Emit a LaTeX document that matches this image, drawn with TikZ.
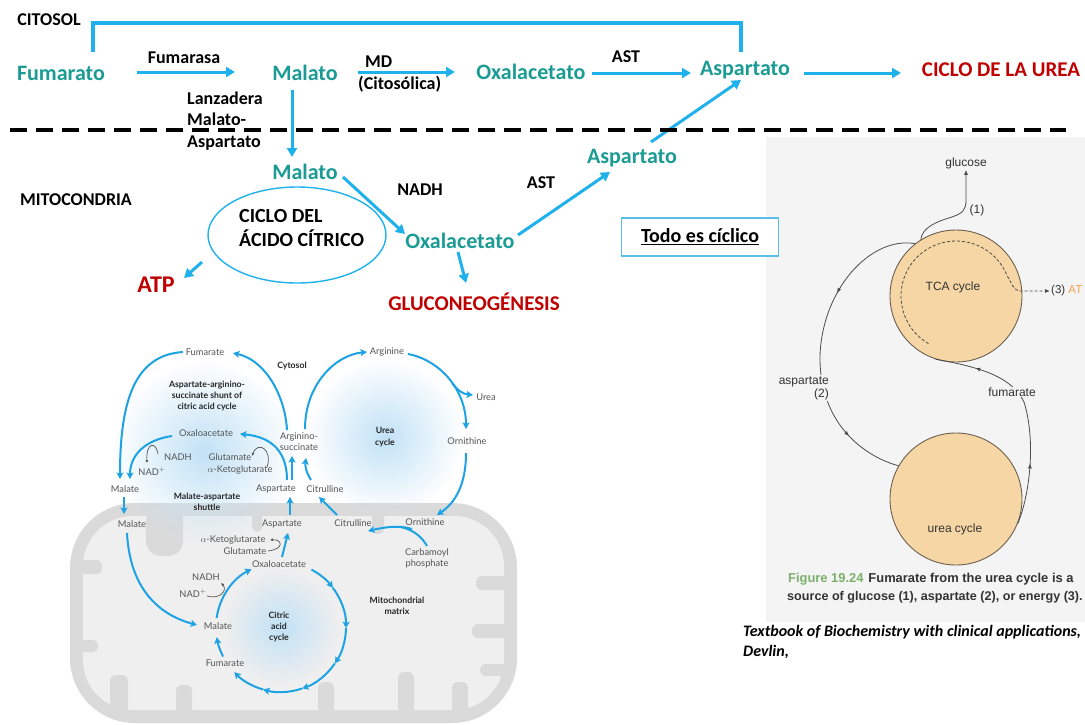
\documentclass[tikz,border=0pt]{standalone}
\usepackage{fontspec}
\setmainfont{Carlito}
\newfontfamily\lato{Lato}
\newfontfamily\helv{Liberation Sans}
\usetikzlibrary{arrows.meta,shapes.geometric,fadings,decorations.markings}
\definecolor{tealc}{HTML}{1A9B94}
\definecolor{bluec}{HTML}{1FB1EC}
\definecolor{boxblue}{HTML}{5BBDEA}
\definecolor{redc}{HTML}{C00000}
\definecolor{figblue}{HTML}{1DA3E3}
\definecolor{figgray}{HTML}{555555}
\definecolor{mitoout}{HTML}{DADADA}
\definecolor{mitoin}{HTML}{EFEFEF}
\definecolor{glowc}{HTML}{C2E2F6}
\definecolor{panel}{HTML}{F4F4F4}
\definecolor{circfill}{HTML}{F7D6A5}
\definecolor{circline}{HTML}{6B5E4E}
\definecolor{capgreen}{HTML}{7BB06A}
\definecolor{capdark}{HTML}{333333}
\definecolor{atporange}{HTML}{F0A050}
\tikzfading[name=glowfade, inner color=transparent!0, outer color=transparent!100]
\begin{document}
\begin{tikzpicture}[x=1pt,y=-1pt,
  tealt/.style={text=tealc, font=\fontsize{22}{24}\selectfont\bfseries, inner sep=1pt},
  blk/.style={text=black, font=\fontsize{18}{21.5}\selectfont\bfseries, inner sep=1pt},
  redt/.style={text=redc, font=\fontsize{21}{23}\selectfont\bfseries, inner sep=1pt},
  bar/.style={draw=bluec, line width=3pt, -{Triangle[length=9pt,width=10pt]}},
  figt/.style={text=figgray, font=\lato\fontsize{9.3}{11}\selectfont, inner sep=0.5pt, align=center},
  figb/.style={text=black!85, font=\lato\bfseries\fontsize{8.7}{11.3}\selectfont, inner sep=0.5pt, align=center},
  farr/.style={draw=figblue, line width=2pt, -{Stealth[length=6.5pt,width=7pt,inset=1.5pt]}},
  fseg/.style={draw=figblue, line width=2pt},
  garr/.style={draw=figgray, line width=0.7pt, -{Latex[length=3pt,width=3pt]}},
  rtxt/.style={text=black!80, font=\helv\fontsize{12}{13}\selectfont, inner sep=1pt},
  rline/.style={draw=black!70, line width=0.8pt},
  rmark/.style={postaction={decorate, decoration={markings, mark=at position #1 with {\arrow{Latex[length=5pt,width=4pt]}}}}},
  cyc/.style={circle, draw=circline, fill=circfill, line width=0.9pt, minimum size=132pt, inner sep=0pt}
]
\useasboundingbox (0,0) rectangle (1085,724);
\fill[white] (0,0) rectangle (1085,724);

% ---------- right panel background ----------
\fill[panel] (766,137) rectangle (1085,622);

% ---------- mitochondrion ----------
\fill[mitoout, rounded corners=65pt] (70,503) rectangle (517,723);
\fill[mitoin, rounded corners=50pt] (83,516) rectangle (504,710);
\fill[mitoout, rounded corners=15pt] (146,505) rectangle (183,556);
\fill[mitoout, rounded corners=5pt] (252,510) rectangle (262,532);
\fill[mitoout, rounded corners=5pt] (372,510) rectangle (384,534);
\fill[mitoout, rounded corners=5pt] (76,560) rectangle (102,574);
\fill[mitoout, rounded corners=5pt] (76,640) rectangle (98,652);
\fill[mitoout, rounded corners=6pt] (110,675) rectangle (128,715);
\fill[mitoout, rounded corners=6pt] (176,685) rectangle (192,715);
\fill[mitoout, rounded corners=6pt] (318,682) rectangle (334,715);
\fill[mitoout, rounded corners=6pt] (398,672) rectangle (414,715);
\fill[mitoout, rounded corners=6pt] (452,682) rectangle (468,715);
\fill[mitoout, rounded corners=6pt] (476,576) rectangle (510,590);
\fill[mitoout, rounded corners=6pt] (472,624) rectangle (510,638);
\fill[mitoout, rounded corners=6pt] (480,664) rectangle (510,676);

% ---------- glows ----------
\fill[glowc, path fading=glowfade] (205,452) circle (92);
\fill[glowc, path fading=glowfade] (385,437) circle (78);
\fill[glowc, path fading=glowfade] (281,627) circle (58);

% ---------- top diagram ----------
\node[blk] (citosol) at (49,20) {CITOSOL};
\node[tealt] (fum) at (61,73) {Fumarato};
\node[blk] (fumasa) at (184,58) {Fumarasa};
\node[tealt] (mal1) at (305,73) {Malato};
\node[blk, anchor=west] (md) at (364,62) {MD};
\node[blk, anchor=west] (mdc) at (357,84) {(Citosólica)};
\node[tealt] (oxa1) at (531,72) {Oxalacetato};
\node[blk] (ast1) at (626,57) {AST};
\node[tealt] (asp1) at (745,70) {Aspartato};
\node[redt] (ciclo) at (1001,70) {CICLO DE LA UREA};
\node[blk, anchor=west, align=left] (lanz) at (186,121) {Lanzadera\\Malato-\\Aspartato};
\node[tealt] (mal2) at (305,172) {Malato};
\node[blk] (mito) at (76,200) {MITOCONDRIA};
\node[blk] (nadh) at (420,190) {NADH};
\node[blk] (ast2) at (541,183) {AST};
\node[tealt] (asp2) at (632,158) {Aspartato};
\node[ellipse, draw=bluec, line width=1.4pt, minimum width=178pt, minimum height=96pt, inner sep=0pt] (cac) at (297,235) {};
\node[blk, anchor=west, align=left, font=\fontsize{20}{24}\selectfont\bfseries] (cactxt) at (238,228) {CICLO DEL\\ÁCIDO CÍTRICO};
\node[tealt] (oxa2) at (460,241) {Oxalacetato};
\node[redt, font=\fontsize{24}{26}\selectfont\bfseries] (atp) at (156,285) {ATP};
\node[redt] (gluc) at (474,302) {GLUCONEOGÉNESIS};

\draw[bar] ([shift={(76,-1)}]fum.center) -- ([shift={(-70,-1)}]mal1.center);
\draw[bar] ([shift={(53,-1)}]mal1.center) -- ([shift={(-76,0)}]oxa1.center);
\draw[bar] ([shift={(61,1)}]oxa1.center) -- ([shift={(-54,3)}]asp1.center);
\draw[bar] ([shift={(59,3)}]asp1.center) -- ([shift={(-100,3)}]ciclo.center);
\draw[bar] ([shift={(-13,17)}]mal1.center) -- ([shift={(-13,-15)}]mal2.center);
\draw[bar] ([shift={(38,5)}]mal2.center) -- ([shift={(-55,-7)}]oxa2.center);
\draw[bar] ([shift={(58,-6)}]oxa2.center) -- ([shift={(-22,14)}]asp2.center);
\draw[bar] ([shift={(19,-16)}]asp2.center) -- ([shift={(-4,10)}]asp1.center);
\draw[bar] ([shift={(-95,27)}]cac.center) -- ([shift={(28,-7)}]atp.center);
\draw[bar] ([shift={(-2,11)}]oxa2.center) -- ([shift={(-8,-19)}]gluc.center);
\draw[draw=bluec, line width=3.5pt] ([shift={(32,-21)}]fum.center) |- ([shift={(-4,-47)}]asp1.center) -- ([shift={(-4,-18)}]asp1.center);

\draw[black, line width=3.5pt, dash pattern=on 17pt off 9pt] (10,130) -- (1066,130);

\node[draw=boxblue, line width=1.3pt, fill=white, minimum width=157pt, minimum height=38pt, font=\fontsize{20}{22}\selectfont\bfseries] (todo) at (700,237) {\underline{Todo es cíclico}};

% ---------- right figure ----------
\node[cyc] (tca) at (956,296) {};
\node[cyc] (ucir) at (956,499) {};
\node[rtxt] (tcat) at (953,287) {TCA cycle};
\node[rtxt] (ucyt) at (955,529) {urea cycle};
\node[rtxt] (glc) at (966,163) {glucose};
\node[rtxt] (one) at (977,210) {(1)};
\node[rtxt, anchor=west, font=\helv\fontsize{11.5}{13}\selectfont] (three) at (1050,291) {(3) \textcolor{atporange}{AT}};

\draw[rline, -{Latex[length=5pt,width=4pt]}] (tca.122) .. controls (922,228) and (935,222) .. (952,217) .. controls (963,213) and (966,210) .. (966,200) -- (glc.south);
\coordinate (aspj) at (820,356);
\draw[rline, rmark=0.6] (tca.128) .. controls (870,236) and (822,290) .. (aspj);
\draw[rline, rmark=0.6] (aspj) .. controls (819,420) and (860,455) .. (ucir.150);
\coordinate (fumj) at (1024,402);
\draw[rline, rmark=0.5] (ucir.-22) .. controls (1030,495) and (1036,440) .. (fumj);
\draw[rline, rmark=0.6] (fumj) .. controls (1012,378) and (985,368) .. (tca.-108);
\draw[rline, dash pattern=on 3pt off 2pt, -{Latex[length=5pt,width=4pt]}] ([shift={(-240:55)}]tca.center) arc[start angle=-240, end angle=-22, radius=55] .. controls (1012,283) and (1013,291) .. (1021,291) -- (three.west);

\node[rtxt, fill=panel, align=right, anchor=east] (aspr) at (830,388) {aspartate\\(2)};
\node[rtxt, fill=panel] (fumr) at (1012,392) {fumarate};

\node[anchor=west, font=\helv\bfseries\fontsize{12.9}{15}\selectfont, text=capdark, inner sep=0pt] (cap1) at (788,579) {\textcolor{capgreen}{Figure 19.24}\hspace{5pt}Fumarate from the urea cycle is a};
\node[anchor=west, font=\helv\bfseries\fontsize{12.6}{15}\selectfont, text=capdark, inner sep=0pt] (cap2) at (787,597) {source of glucose (1), aspartate (2), or energy (3).};
\node[anchor=west, align=left, font=\fontsize{16}{20}\selectfont\bfseries\itshape, inner sep=0pt] (cite) at (743,642) {Textbook of Biochemistry with clinical applications,\\Devlin,};

% ---------- bottom-left figure ----------
\node[figt] (fumT) at (205,352) {Fumarate};
\node[figb] (cyto) at (292,366) {Cytosol};
\node[figb] (shunt) at (207,396) {Aspartate-arginino-\\succinate shunt of\\citric acid cycle};
\node[figt] (argn) at (387,352) {Arginine};
\node[figt] (urea2) at (486,397) {Urea};
\node[figb] (ucyc) at (385,437) {Urea\\cycle};
\node[figt] (ornU) at (467,441) {Ornithine};
\node[figt] (argsuc) at (299,442) {Arginino-\\succinate};
\node[figt] (oxaU) at (206,433) {Oxaloacetate};
\node[figt] (nadhU) at (178,457) {NADH};
\node[figt] (nadU) at (152,471) {NAD$^+$};
\node[figt] (gluU) at (230,457) {Glutamate};
\node[figt] (akgU) at (240,470) {$\alpha$-Ketoglutarate};
\node[figt] (malU) at (125,489) {Malate};
\node[figb] (shut) at (207,502) {Malate-aspartate\\shuttle};
\node[figt] (aspU) at (276,489) {Aspartate};
\node[figt] (citU) at (325,489) {Citrulline};
\node[figt] (malL) at (132,524) {Malate};
\node[figt] (aspL) at (282,524) {Aspartate};
\node[figt] (citL) at (353,523) {Citrulline};
\node[figt] (ornL) at (425,522) {Ornithine};
\node[figt] (akgL) at (233,540) {$\alpha$-Ketoglutarate};
\node[figt] (gluL) at (245,551) {Glutamate};
\node[figt] (oxaL) at (279,564) {Oxaloacetate};
\node[figt] (carb) at (427,558) {Carbamoyl\\phosphate};
\node[figt] (nadhL) at (206,577) {NADH};
\node[figt] (nadL) at (193,593) {NAD$^+$};
\node[figb] (mtx) at (397,606) {Mitochondrial\\matrix};
\node[figt] (malC) at (218,626) {Malate};
\node[figb] (cac2) at (279,627) {Citric\\acid\\cycle};
\node[figt] (fumL) at (225,663) {Fumarate};

\draw[farr] ([shift={(-12,-12)}]argsuc.center) .. controls (285,395) and (265,360) .. ([shift={(28,1)}]fumT.center);
\draw[farr] ([shift={(-22,0)}]fumT.center) .. controls (135,355) and (120,400) .. ([shift={(-5,-10)}]malU.center);
\draw[farr] ([shift={(-34,3)}]oxaU.center) .. controls (145,440) and (130,455) .. ([shift={(5,-10)}]malU.center);
\draw[farr] ([shift={(11,-9)}]aspU.center) .. controls (287,455) and (275,437) .. ([shift={(34,1)}]oxaU.center);
\draw[farr] ([shift={(16,-9)}]aspU.center) -- ([shift={(-7,14)}]argsuc.center);
\draw[farr] ([shift={(-14,-9)}]citU.center) .. controls (306,472) and (305,466) .. ([shift={(7,16)}]argsuc.center);
\draw[farr] ([shift={(6,-13)}]argsuc.center) .. controls (305,385) and (335,355) .. ([shift={(-20,0)}]argn.center);
\draw[farr] ([shift={(21,2)}]argn.center) .. controls (440,360) and (466,390) .. ([shift={(-1,-12)}]ornU.center) coordinate[pos=0.55] (ubr);
\draw[farr] (ubr) .. controls (458,390) and (462,394) .. ([shift={(-13,-2)}]urea2.center);
\draw[farr] ([shift={(-1,12)}]ornU.center) .. controls (466,485) and (455,503) .. ([shift={(12,-7)}]ornL.center);
\draw[farr] ([shift={(-13,7)}]ornL.center) .. controls (400,525) and (385,527) .. ([shift={(15,8)}]citL.center) coordinate[pos=0.3] (kj);
\draw[fseg] ([shift={(0,-12)}]carb.center) .. controls (422,537) and (414,530) .. (kj);
\draw[farr] ([shift={(-16,-8)}]citL.center) .. controls (330,508) and (325,503) .. ([shift={(-6,8)}]citU.center);
\draw[farr] ([shift={(8,-9)}]aspL.center) -- ([shift={(14,8)}]aspU.center);
\draw[farr] ([shift={(3,-7)}]oxaL.center) -- ([shift={(6,9)}]aspL.center);
\draw[farr] ([shift={(-1,8)}]malU.center) -- ([shift={(-8,-10)}]malL.center);
\draw[farr] ([shift={(-5,9)}]malL.center) .. controls (130,590) and (160,615) .. ([shift={(-21,-1)}]malC.center);

\draw[garr] ([shift={(-20,-3)}]nadhU.center) .. controls (156,441) and (146,442) .. ([shift={(-5,-8)}]nadU.center);
\draw[garr] ([shift={(27,-3)}]akgU.center) .. controls (273,450) and (258,440) .. ([shift={(22,-1)}]gluU.center);
\draw[garr] ([shift={(23,0)}]gluL.center) .. controls (285,549) and (282,539) .. ([shift={(37,0)}]akgL.center);
\draw[garr] ([shift={(14,3)}]nadL.center) .. controls (220,600) and (228,590) .. ([shift={(15,6)}]nadhL.center);

\coordinate (ccen) at (281,627);
\draw[farr] ([shift={(-62:65)}]ccen) arc[start angle=-62, end angle=-37, radius=65];
\draw[farr] ([shift={(-37:65)}]ccen) arc[start angle=-37, end angle=1, radius=65];
\draw[farr] ([shift={(1:65)}]ccen) arc[start angle=1, end angle=34, radius=65];
\draw[farr] ([shift={(34:65)}]ccen) arc[start angle=34, end angle=71, radius=65];
\draw[farr] ([shift={(71:65)}]ccen) arc[start angle=71, end angle=106, radius=65];
\draw[farr] ([shift={(106:65)}]ccen) arc[start angle=106, end angle=136, radius=65];
\draw[farr] ([shift={(153:65)}]ccen) arc[start angle=153, end angle=171, radius=65];
\draw[farr] ([shift={(-172:65)}]ccen) arc[start angle=-172, end angle=-117, radius=65];
\end{tikzpicture}
\end{document}
